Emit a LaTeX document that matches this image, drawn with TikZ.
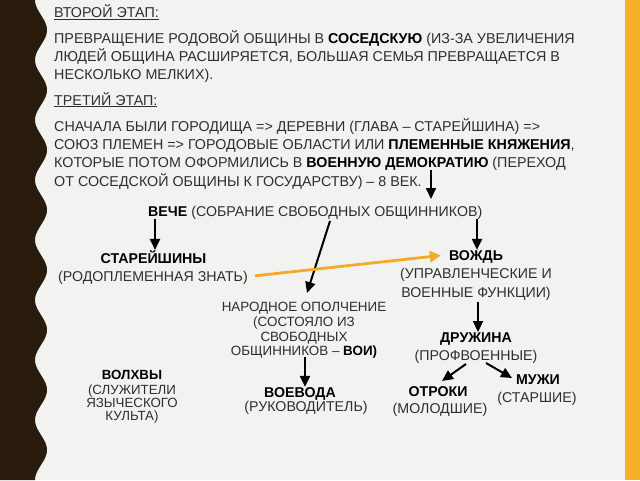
\documentclass[tikz,border=0pt]{standalone}
\usepackage{fontspec}
\setmainfont{Liberation Sans}
\usetikzlibrary{arrows.meta,calc}
\definecolor{bgcol}{HTML}{F2F2F0}
\definecolor{bandbrown}{HTML}{2A1C0C}
\definecolor{bandorange}{HTML}{F6B127}
\definecolor{arrorange}{HTML}{F3A92A}
\definecolor{txt}{HTML}{2E2E2E}
\tikzset{
  topline/.style={anchor=base west, inner sep=0pt, text=txt, font=\fontsize{14.3}{17}\selectfont},
  lbl/.style={anchor=base, inner sep=0pt, text=txt, font=\fontsize{14.2}{17}\selectfont},
  blbl/.style={anchor=base, inner sep=0pt, text=black, font=\bfseries\fontsize{14.2}{17}\selectfont},
  slbl/.style={anchor=base, inner sep=0pt, text=txt, font=\fontsize{13.4}{16}\selectfont},
  vlbl/.style={anchor=base, inner sep=0pt, text=txt, font=\fontsize{13.3}{16}\selectfont},
  bvlbl/.style={anchor=base, inner sep=0pt, text=black, font=\bfseries\fontsize{13.3}{16}\selectfont},
  arr/.style={-{Triangle[length=11pt,width=10pt]}, line width=2pt, black},
  oarr/.style={-{Triangle[length=11pt,width=11pt]}, line width=2.8pt, arrorange},
}
\begin{document}
\begin{tikzpicture}[x=1pt,y=-1pt]
\useasboundingbox (0,0) rectangle (640,480);
\fill[bgcol] (0,0) rectangle (640,480);
\fill[bandorange] (625,0) rectangle (640,480);
\fill[bandbrown] (0,0) -- plot[domain=0:480, samples=240, variable=\t] ({41-6*cos(6*\t)}, \t) -- (0,480) -- cycle;

% top text
\node[topline] (t1) at (54,17.5) {\underline{ВТОРОЙ ЭТАП:}};
\node[topline] (t2) at (54,43) {ПРЕВРАЩЕНИЕ РОДОВОЙ ОБЩИНЫ В \textbf{\color{black}СОСЕДСКУЮ} (ИЗ-ЗА УВЕЛИЧЕНИЯ};
\node[topline] (t3) at (54,61) {ЛЮДЕЙ ОБЩИНА РАСШИРЯЕТСЯ, БОЛЬШАЯ СЕМЬЯ ПРЕВРАЩАЕТСЯ В};
\node[topline] (t4) at (54,79) {НЕСКОЛЬКО МЕЛКИХ).};
\node[topline] (t5) at (54,105) {\underline{ТРЕТИЙ ЭТАП:}};
\node[topline] (t6) at (54,131) {СНАЧАЛА БЫЛИ ГОРОДИЩА => ДЕРЕВНИ (ГЛАВА – СТАРЕЙШИНА) =>};
\node[topline] (t7) at (54,149) {СОЮЗ ПЛЕМЕН => ГОРОДОВЫЕ ОБЛАСТИ ИЛИ \textbf{\color{black}ПЛЕМЕННЫЕ КНЯЖЕНИЯ},};
\node[topline] (t8) at (54,167) {КОТОРЫЕ ПОТОМ ОФОРМИЛИСЬ В \textbf{\color{black}ВОЕННУЮ ДЕМОКРАТИЮ} (ПЕРЕХОД};
\node[topline] (t9) at (54,186) {ОТ СОСЕДСКОЙ ОБЩИНЫ К ГОСУДАРСТВУ) – 8 ВЕК.};

% diagram
\node[lbl, anchor=base west] (veche) at (148,216) {\textbf{\color{black}ВЕЧЕ} (СОБРАНИЕ СВОБОДНЫХ ОБЩИННИКОВ)};
\node[blbl] (star1) at (153.5,263) {СТАРЕЙШИНЫ};
\node[lbl, anchor=base east] (star2) at (248,281.5) {(РОДОПЛЕМЕННАЯ ЗНАТЬ)};
\node[blbl] (vozhd1) at (476,260) {ВОЖДЬ};
\node[lbl] (vozhd2) at (476,278) {(УПРАВЛЕНЧЕСКИЕ И};
\node[lbl] (vozhd3) at (476,297) {ВОЕННЫЕ ФУНКЦИИ)};
\node[slbl] (nar1) at (304,311) {НАРОДНОЕ ОПОЛЧЕНИЕ};
\node[slbl] (nar2) at (304,326) {(СОСТОЯЛО ИЗ};
\node[slbl] (nar3) at (304,341) {СВОБОДНЫХ};
\node[slbl] (nar4) at (304,355) {ОБЩИННИКОВ – \textbf{\color{black}ВОИ)}};
\node[blbl] (voev1) at (300,397) {ВОЕВОДА};
\node[lbl] (voev2) at (306,411) {(РУКОВОДИТЕЛЬ)};
\node[bvlbl] (volh1) at (132,379) {ВОЛХВЫ};
\node[vlbl] (volh2) at (132,394) {(СЛУЖИТЕЛИ};
\node[vlbl] (volh3) at (132,407) {ЯЗЫЧЕСКОГО};
\node[vlbl] (volh4) at (132,420) {КУЛЬТА)};
\node[blbl] (dr1) at (476,342) {ДРУЖИНА};
\node[lbl] (dr2) at (476,360) {(ПРОФВОЕННЫЕ)};
\node[blbl] (otr1) at (438,396) {ОТРОКИ};
\node[lbl] (otr2) at (440,413) {(МОЛОДШИЕ)};
\node[blbl] (muzh1) at (538,384) {МУЖИ};
\node[lbl] (muzh2) at (537,402) {(СТАРШИЕ)};

% arrow end points
\coordinate (a0s) at (431,170);
\coordinate (a0e) at (431,199);
\coordinate (a1s) at (155,219);
\coordinate (a2s) at (330,221);
\coordinate (a2e) at (307,293);
\coordinate (a3s) at (477,219);
\coordinate (a5s) at (478,302);
\coordinate (a6s) at (466,364);
\coordinate (a6e) at (442,381);
\coordinate (a7s) at (486,363);
\coordinate (a7e) at (512,378);
\coordinate (a8s) at (305,357);

\draw[arr] (a0s) -- (a0e);
\draw[arr] (a1s) -- (a1s |- star1.north);
\draw[arr] (a2s) -- (a2e);
\draw[arr] (a3s) -- (a3s |- vozhd1.north);
\draw[oarr] ($(star2.east)+(7,-2)$) -- ($(vozhd1.west)+(-8,-1)$);
\draw[arr] (a5s) -- (a5s |- dr1.north);
\draw[arr] (a6s) -- (a6e);
\draw[arr] (a7s) -- (a7e);
\draw[arr] (a8s) -- (a8s |- voev1.north);
\end{tikzpicture}
\end{document}
